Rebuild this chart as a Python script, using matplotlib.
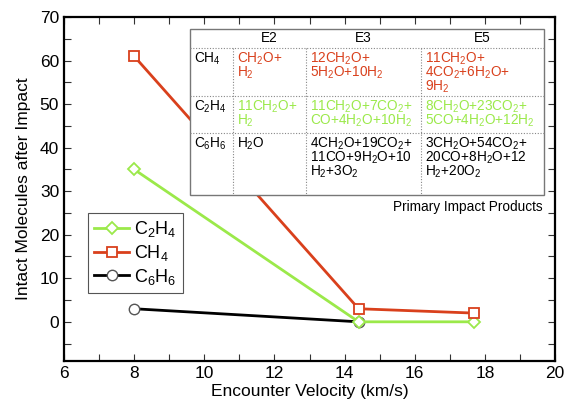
import matplotlib
matplotlib.use("Agg")
import matplotlib.pyplot as plt
from matplotlib.ticker import MultipleLocator
from matplotlib.lines import Line2D

plt.rcParams['font.family'] = ['Liberation Sans', 'DejaVu Sans']
plt.rcParams['mathtext.fontset'] = 'custom'
plt.rcParams['mathtext.rm'] = 'Liberation Sans'
plt.rcParams['mathtext.it'] = 'Liberation Sans'
plt.rcParams['mathtext.bf'] = 'Liberation Sans'

# Data
vel_ch4 = [8, 14.4, 17.7]
ch4 = [61, 3, 2]
vel_c2h4 = [8, 14.4, 17.7]
c2h4 = [35, 0, 0]
vel_c6h6 = [8, 14.4]
c6h6 = [3, 0]

col_headers = ["E2", "E3", "E5"]
row_labels = ["CH_4", "C_2H_4", "C_6H_6"]
cells = [
    [["CH_2O+", "H_2"],
     ["12CH_2O+", "5H_2O+10H_2"],
     ["11CH_2O+", "4CO_2+6H_2O+", "9H_2"]],
    [["11CH_2O+", "H_2"],
     ["11CH_2O+7CO_2+", "CO+4H_2O+10H_2"],
     ["8CH_2O+23CO_2+", "5CO+4H_2O+12H_2"]],
    [["H_2O"],
     ["4CH_2O+19CO_2+", "11CO+9H_2O+10", "H_2+3O_2"],
     ["3CH_2O+54CO_2+", "20CO+8H_2O+12", "H_2+20O_2"]],
]


def chem(s):
    return r"$\mathregular{" + s.replace("+", "{+}") + "}$"


def chem_lines(lines):
    return "\n".join(chem(l) for l in lines)


red = '#d9401c'
green = '#9be94a'

fig = plt.figure(figsize=(5.66, 4.07), dpi=100)
ax = fig.add_axes([64/566, (407-361)/407, (555-64)/566, (361-17)/407])

ax.plot(vel_c2h4, c2h4, color=green, lw=2, marker='D', ms=6.5, mfc='white', mec=green, mew=1.3, label=chem("C_2H_4"), zorder=3)
ax.plot(vel_ch4, ch4, color=red, lw=2, marker='s', ms=7.5, mfc='white', mec=red, mew=1.3, label=chem("CH_4"), zorder=3)
ax.plot(vel_c6h6, c6h6, color='black', lw=2, marker='o', ms=7.5, mfc='white', mec='#555555', mew=1.0, label=chem("C_6H_6"), zorder=2)

ax.set_xlim(6, 20)
ax.set_ylim(-9, 70)
ax.xaxis.set_major_locator(MultipleLocator(2))
ax.xaxis.set_minor_locator(MultipleLocator(1))
ax.set_yticks([0, 10, 20, 30, 40, 50, 60, 70])
ax.yaxis.set_minor_locator(MultipleLocator(5))
ax.tick_params(which='both', direction='in', top=True, right=True, labelsize=12.5, color='#333333')
ax.tick_params(which='major', length=5, width=0.8)
ax.tick_params(which='minor', length=5, width=0.8)
for s in ax.spines.values():
    s.set_linewidth(1.6)
ax.set_xlabel("Encounter Velocity (km/s)", fontsize=12.5, labelpad=2)
ax.set_ylabel("Intact Molecules after Impact", fontsize=12.5, labelpad=6)

leg = ax.legend(loc='upper left', bbox_to_anchor=(0.049, 0.43), borderaxespad=0,
                fancybox=False, edgecolor='#555555', fontsize=13, handlelength=1.9,
                handletextpad=0.3, labelspacing=0.2, borderpad=0.35, framealpha=1)
leg.get_frame().set_linewidth(0.8)

# Table (pixel-derived axes fractions)
def fx(px):
    return (px - 64) / 491


def fy(py):
    return (361 - py) / 344


xs = [190, 233, 306, 421, 544]
ys = [29, 48, 96, 133, 195]
tr = ax.transAxes
rect = plt.Rectangle((fx(xs[0]), fy(ys[-1])), fx(xs[-1]) - fx(xs[0]), fy(ys[0]) - fy(ys[-1]),
                     transform=tr, facecolor='white', edgecolor='#777777', lw=1.0, zorder=5)
ax.add_patch(rect)
for yy in ys[1:-1]:
    ax.add_line(Line2D([fx(xs[0]), fx(xs[-1])], [fy(yy), fy(yy)], transform=tr,
                       color='#888888', lw=0.8, ls=(0, (1, 1.5)), zorder=6))
for xx in xs[1:-1]:
    ax.add_line(Line2D([fx(xx), fx(xx)], [fy(ys[1]), fy(ys[-1])], transform=tr,
                       color='#888888', lw=0.8, ls=(0, (1, 1.5)), zorder=6))

fs = 9.8
for j, h in enumerate(col_headers):
    ax.text((fx(xs[j+1]) + fx(xs[j+2])) / 2, fy(ys[0] + 9.5), h, transform=tr,
            ha='center', va='center', fontsize=fs, zorder=7)
row_colors = [red, green, 'black']
for i, lab in enumerate(row_labels):
    ax.text(fx(xs[0] + 4), fy(ys[i+1] + 3), chem(lab), transform=tr, ha='left', va='top',
            fontsize=fs, zorder=7)
    for j in range(3):
        ax.text(fx(xs[j+1] + 4), fy(ys[i+1] + 3), chem_lines(cells[i][j]), transform=tr,
                ha='left', va='top', fontsize=fs, color=row_colors[i], linespacing=0.8, zorder=7)

ax.text(fx(543), fy(207), "Primary Impact Products", transform=tr, ha='right', va='center',
        fontsize=9.8, zorder=7)

fig.savefig("out.png", dpi=100)
